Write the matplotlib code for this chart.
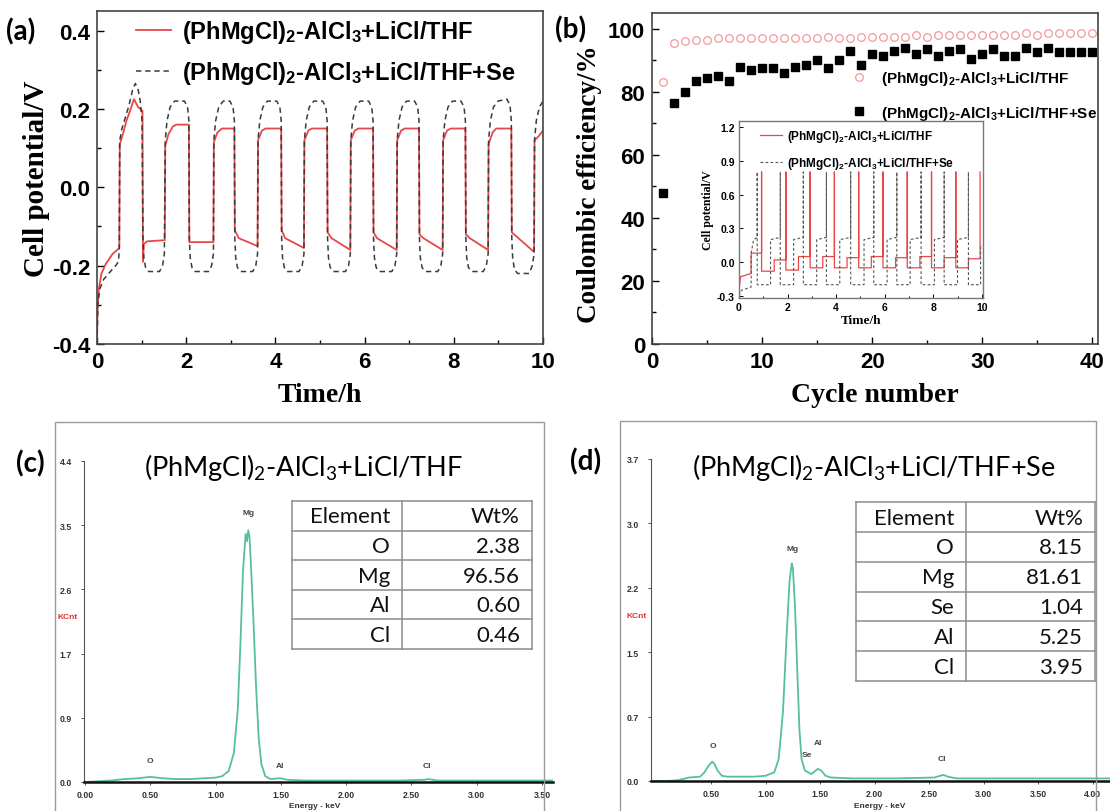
import matplotlib.pyplot as plt
from matplotlib.patches import Rectangle
from matplotlib.ticker import MultipleLocator

plt.rcParams['font.family'] = 'Liberation Sans'
plt.rcParams['font.weight'] = 'bold'
plt.rcParams['mathtext.default'] = 'regular'
plt.rcParams['axes.unicode_minus'] = False

W, H = 1110, 812

LBL_PLAIN = r'(PhMgCl)$_2$-AlCl$_3$+LiCl/THF'
LBL_SE = r'(PhMgCl)$_2$-AlCl$_3$+LiCl/THF+Se'

# (a) galvanostatic cycling, (time h, potential V)
red_pts = [
    (0.00, -0.40), (0.01, -0.32), (0.04, -0.26), (0.10, -0.22), (0.20, -0.195), (0.35, -0.17), (0.50, -0.155),
    (0.51, 0.11), (0.58, 0.135), (0.66, 0.17), (0.74, 0.195), (0.83, 0.225), (0.92, 0.205), (1.02, 0.195),
    (1.03, -0.19), (1.05, -0.145), (1.12, -0.138), (1.52, -0.135),
    (1.53, 0.105), (1.60, 0.135), (1.70, 0.155), (1.78, 0.16), (2.06, 0.16),
    (2.07, -0.14), (2.61, -0.14),
    (2.62, 0.115), (2.70, 0.14), (2.80, 0.15), (3.08, 0.15),
    (3.09, -0.11), (3.18, -0.13), (3.60, -0.15),
    (3.61, 0.12), (3.70, 0.145), (3.78, 0.15), (4.13, 0.15),
    (4.14, -0.11), (4.22, -0.13), (4.64, -0.155),
    (4.65, 0.12), (4.74, 0.145), (4.82, 0.15), (5.16, 0.15),
    (5.17, -0.115), (5.26, -0.13), (5.68, -0.16),
    (5.69, 0.12), (5.78, 0.145), (5.86, 0.15), (6.19, 0.15),
    (6.20, -0.115), (6.28, -0.13), (6.72, -0.16),
    (6.73, 0.12), (6.82, 0.145), (6.90, 0.15), (7.22, 0.15),
    (7.23, -0.12), (7.32, -0.13), (7.75, -0.16),
    (7.76, 0.12), (7.85, 0.145), (7.93, 0.15), (8.26, 0.15),
    (8.27, -0.12), (8.36, -0.13), (8.77, -0.16),
    (8.78, 0.11), (8.87, 0.14), (8.95, 0.15), (9.29, 0.15),
    (9.30, -0.115), (9.40, -0.125), (9.80, -0.165),
    (9.81, 0.12), (9.90, 0.13), (10.0, 0.145),
]
se_pts = [
    (0.00, -0.40), (0.02, -0.30), (0.06, -0.26), (0.15, -0.235), (0.30, -0.215), (0.42, -0.20), (0.48, -0.19), (0.50, -0.16),
    (0.51, 0.12), (0.56, 0.15), (0.64, 0.18), (0.72, 0.21), (0.80, 0.25), (0.86, 0.265), (0.92, 0.25), (0.97, 0.22), (1.01, 0.17),
    (1.03, -0.13), (1.05, -0.18), (1.09, -0.205), (1.16, -0.215), (1.40, -0.215), (1.47, -0.20), (1.51, -0.17),
    (1.53, 0.12), (1.57, 0.17), (1.64, 0.205), (1.74, 0.22), (1.96, 0.22), (2.03, 0.205), (2.06, 0.17),
    (2.07, -0.13), (2.09, -0.18), (2.13, -0.205), (2.20, -0.215), (2.50, -0.215), (2.57, -0.20), (2.61, -0.17),
    (2.62, 0.12), (2.66, 0.17), (2.73, 0.205), (2.83, 0.22), (2.98, 0.22), (3.05, 0.205), (3.08, 0.17),
    (3.09, -0.13), (3.11, -0.18), (3.15, -0.205), (3.22, -0.215), (3.49, -0.215), (3.56, -0.20), (3.60, -0.17),
    (3.61, 0.12), (3.65, 0.17), (3.72, 0.205), (3.82, 0.22), (4.03, 0.22), (4.10, 0.205), (4.13, 0.17),
    (4.14, -0.13), (4.16, -0.18), (4.20, -0.205), (4.27, -0.215), (4.53, -0.215), (4.60, -0.20), (4.64, -0.17),
    (4.65, 0.12), (4.69, 0.17), (4.76, 0.205), (4.86, 0.22), (5.06, 0.22), (5.13, 0.205), (5.16, 0.17),
    (5.17, -0.13), (5.19, -0.18), (5.23, -0.205), (5.30, -0.215), (5.57, -0.215), (5.64, -0.20), (5.68, -0.17),
    (5.69, 0.12), (5.73, 0.17), (5.80, 0.205), (5.90, 0.22), (6.09, 0.22), (6.16, 0.205), (6.19, 0.17),
    (6.20, -0.13), (6.22, -0.18), (6.26, -0.205), (6.33, -0.215), (6.61, -0.215), (6.68, -0.20), (6.72, -0.17),
    (6.73, 0.12), (6.77, 0.17), (6.84, 0.205), (6.94, 0.22), (7.12, 0.22), (7.19, 0.205), (7.22, 0.17),
    (7.23, -0.13), (7.25, -0.18), (7.29, -0.205), (7.36, -0.215), (7.64, -0.215), (7.71, -0.20), (7.75, -0.17),
    (7.76, 0.12), (7.80, 0.17), (7.87, 0.205), (7.97, 0.22), (8.16, 0.22), (8.23, 0.205), (8.26, 0.17),
    (8.27, -0.13), (8.29, -0.18), (8.33, -0.205), (8.40, -0.215), (8.66, -0.215), (8.73, -0.20), (8.77, -0.17),
    (8.78, 0.12), (8.82, 0.17), (8.89, 0.205), (8.99, 0.22), (9.19, 0.225), (9.26, 0.21), (9.29, 0.17),
    (9.30, -0.13), (9.32, -0.18), (9.36, -0.21), (9.43, -0.22), (9.69, -0.22), (9.76, -0.20), (9.80, -0.17),
    (9.81, 0.12), (9.85, 0.17), (9.92, 0.205), (10.0, 0.22),
]

# (b) coulombic efficiency per cycle
cycles = list(range(1, 41))
ce_plain = [83, 95.5, 96, 96.5, 96.5, 97, 97, 97, 97, 97, 97, 97, 97, 97, 97, 97.5, 97, 97, 97.5, 97.5,
            97.5, 97.5, 97.5, 98, 97.5, 98, 98, 98, 98, 98, 98, 98, 98, 98.5, 98, 98.5, 98.5, 98.5, 98.5, 98.5]
ce_se = [48, 76.5, 80, 83.5, 84.5, 85, 83.5, 88, 87, 87.5, 87.5, 86, 88, 88.5, 90, 87.5, 90, 93, 88.5, 92,
         91.5, 93, 94, 92, 93.5, 91.5, 93, 93.5, 90.5, 92, 93.5, 91.5, 91.5, 94, 92.5, 94, 92.5, 92.5, 92.5, 92.5]

# (b) inset, long cycling with cutoff spikes
inset_red = [
    (0.00, -0.25), (0.06, -0.13), (0.50, -0.10),
    (0.50, 0.08), (0.93, 0.08), (0.93, 0.80), (0.93, -0.08),
    (1.45, -0.08), (1.45, 0.02), (1.93, 0.02), (1.93, 0.80), (1.93, -0.07),
    (2.45, -0.07), (2.45, 0.05), (2.93, 0.05), (2.93, 0.80), (2.93, -0.05),
    (3.45, -0.05), (3.45, 0.05), (3.93, 0.05), (3.93, 0.80), (3.93, -0.05),
    (4.45, -0.05), (4.45, 0.04), (4.93, 0.04), (4.93, 0.80), (4.93, -0.05),
    (5.45, -0.05), (5.45, 0.05), (5.93, 0.05), (5.93, 0.80), (5.93, -0.05),
    (6.45, -0.05), (6.45, 0.04), (6.93, 0.04), (6.93, 0.80), (6.93, -0.05),
    (7.45, -0.05), (7.45, 0.05), (7.93, 0.05), (7.93, 0.80), (7.93, -0.05),
    (8.45, -0.05), (8.45, 0.04), (8.93, 0.04), (8.93, 0.80), (8.93, -0.05),
    (9.45, -0.05), (9.45, 0.03), (9.93, 0.03), (9.93, 0.80),
]
inset_se = [
    (0.00, -0.30), (0.10, -0.25), (0.50, -0.22), (0.50, 0.08), (0.60, 0.20), (0.75, 0.22), (0.75, 0.80), (0.75, -0.20),
    (1.30, -0.20), (1.30, 0.20), (1.70, 0.22), (1.70, 0.80), (1.70, -0.20),
    (2.25, -0.20), (2.25, 0.20), (2.65, 0.22), (2.65, 0.80), (2.65, -0.20),
    (3.20, -0.20), (3.20, 0.20), (3.60, 0.22), (3.60, 0.80), (3.60, -0.20),
    (4.15, -0.20), (4.15, 0.20), (4.60, 0.22), (4.60, 0.80), (4.60, -0.20),
    (5.15, -0.20), (5.15, 0.20), (5.55, 0.22), (5.55, 0.80), (5.55, -0.20),
    (6.10, -0.20), (6.10, 0.20), (6.50, 0.22), (6.50, 0.80), (6.50, -0.20),
    (7.05, -0.20), (7.05, 0.20), (7.50, 0.22), (7.50, 0.80), (7.50, -0.20),
    (8.05, -0.20), (8.05, 0.20), (8.45, 0.22), (8.45, 0.80), (8.45, -0.20),
    (9.00, -0.20), (9.00, 0.20), (9.45, 0.22), (9.45, 0.80), (9.45, -0.20), (9.95, -0.20), (9.95, 0.15), (10.0, 0.15),
]

# (c) EDX spectrum, deposit without Se (keV, KCnt)
energy_c = [0.00, 0.10, 0.20, 0.30, 0.40, 0.45, 0.50, 0.55, 0.60, 0.70, 0.80, 0.90, 1.00, 1.05, 1.10, 1.14, 1.17,
            1.19, 1.21, 1.23, 1.24, 1.25, 1.26, 1.27, 1.29, 1.31, 1.33, 1.35, 1.38, 1.42, 1.48, 1.50, 1.55, 1.70,
            2.00, 2.40, 2.60, 2.63, 2.70, 3.00, 3.58]
counts_c = [0.00, 0.01, 0.02, 0.04, 0.05, 0.06, 0.07, 0.06, 0.05, 0.04, 0.04, 0.05, 0.06, 0.08, 0.15, 0.40, 1.00,
            1.90, 2.90, 3.40, 3.30, 3.45, 3.35, 3.00, 2.20, 1.30, 0.60, 0.25, 0.08, 0.04, 0.05, 0.05, 0.03, 0.02,
            0.02, 0.02, 0.03, 0.04, 0.02, 0.02, 0.02]
elements_c = ['O', 'Mg', 'Al', 'Cl']
wt_c = [2.38, 96.56, 0.60, 0.46]
peaks_c = [('O', 0.50, 0.25), ('Mg', 1.25, 3.65), ('Al', 1.49, 0.18), ('Cl', 2.62, 0.18)]

# (d) EDX spectrum, deposit with Se
energy_d = [-0.05, 0.10, 0.20, 0.30, 0.40, 0.44, 0.48, 0.51, 0.53, 0.56, 0.60, 0.65, 0.75, 0.90, 1.00, 1.08, 1.12,
            1.16, 1.19, 1.22, 1.24, 1.25, 1.27, 1.29, 1.31, 1.33, 1.36, 1.39, 1.42, 1.45, 1.48, 1.51, 1.55, 1.60,
            1.80, 2.20, 2.55, 2.60, 2.63, 2.67, 2.75, 3.20, 4.16]
counts_d = [0.00, 0.00, 0.01, 0.04, 0.05, 0.10, 0.18, 0.22, 0.20, 0.12, 0.06, 0.05, 0.05, 0.05, 0.06, 0.10, 0.25,
            0.80, 1.60, 2.30, 2.50, 2.45, 2.00, 1.30, 0.60, 0.25, 0.12, 0.10, 0.08, 0.11, 0.14, 0.12, 0.06, 0.04,
            0.03, 0.03, 0.04, 0.06, 0.07, 0.05, 0.03, 0.03, 0.03]
elements_d = ['O', 'Mg', 'Se', 'Al', 'Cl']
wt_d = [8.15, 81.61, 1.04, 5.25, 3.95]
peaks_d = [('O', 0.52, 0.37), ('Mg', 1.25, 2.63), ('Se', 1.38, 0.26), ('Al', 1.48, 0.40), ('Cl', 2.62, 0.22)]

RED = '#e8474a'
DARK = '#3a3a3a'
TEAL = '#55bfa0'
GRID_GRAY = '#8c8c8c'
SERIF = dict(fontfamily='Liberation Serif', fontweight='bold')


def px_axes(fig, x0, y0, x1, y1):
    return fig.add_axes([x0 / W, 1 - y1 / H, (x1 - x0) / W, (y1 - y0) / H])


def px_text(fig, x, y, s, **kw):
    kw.setdefault('ha', 'center')
    kw.setdefault('va', 'center')
    return fig.text(x / W, 1 - y / H, s, **kw)


def style_frame(ax, color='#444444', lw=1.2):
    for sp in ax.spines.values():
        sp.set_color(color)
        sp.set_linewidth(lw)


def draw_table(ax, elements, wt, split):
    rows = [('Element', 'Wt%')] + [(e, f'{w:.2f}') for e, w in zip(elements, wt)]
    n = len(rows)
    ax.set_xlim(0, 1)
    ax.set_ylim(n, 0)
    ax.axis('off')
    for i in range(n + 1):
        ax.plot([0, 1], [i, i], color=GRID_GRAY, lw=1.1, clip_on=False)
    for x in (0, split, 1):
        ax.plot([x, x], [0, n], color=GRID_GRAY, lw=1.1, clip_on=False)
    for i, (a, b) in enumerate(rows):
        ax.text(split - 0.05, i + 0.52, a, ha='right', va='center',
                fontfamily='Lato', fontweight='normal', fontsize=16, color='#111111')
        ax.text(0.95, i + 0.52, b, ha='right', va='center',
                fontfamily='Lato', fontweight='normal', fontsize=16, color='#111111')


def edx_axes(ax, xlim, ylim, yticks, ylabels, xticks, xlabels, energy, counts, peaks):
    ax.plot(energy, counts, color=TEAL, lw=1.3)
    ax.set_xlim(*xlim)
    ax.set_ylim(*ylim)
    for side in ('top', 'right'):
        ax.spines[side].set_visible(False)
    ax.spines['left'].set_color('#555555')
    ax.spines['left'].set_linewidth(0.8)
    ax.spines['bottom'].set_color('#111111')
    ax.spines['bottom'].set_linewidth(1.8)
    ax.set_yticks(yticks, ylabels)
    ax.set_xticks(xticks, xlabels)
    ax.tick_params(axis='both', direction='out', length=2.5, width=0.7, labelsize=6.3,
                   labelcolor='#333333', color='#555555')
    ax.tick_params(axis='y', pad=6)
    ax.tick_params(axis='x', pad=3)
    ax.patch.set_alpha(0)
    for name, e, y in peaks:
        ax.text(e, y, name, ha='center', va='bottom', fontsize=6, color='#444444')


fig = plt.figure(figsize=(W / 100, H / 100), dpi=100)

# ---- (a) voltage profiles ----
ax_a = px_axes(fig, 97, 12, 543, 345)
t_r, v_r = zip(*red_pts)
t_s, v_s = zip(*se_pts)
ax_a.plot(t_r, v_r, color=RED, lw=1.3, label=LBL_PLAIN)
ax_a.plot(t_s, v_s, color=DARK, lw=1.1, ls=(0, (3.5, 2.5)), label=LBL_SE)
ax_a.set_xlim(0, 10)
ax_a.set_ylim(-0.4, 0.45)
ax_a.xaxis.set_major_locator(MultipleLocator(2))
ax_a.xaxis.set_minor_locator(MultipleLocator(1))
ax_a.yaxis.set_major_locator(MultipleLocator(0.2))
ax_a.yaxis.set_minor_locator(MultipleLocator(0.1))
ax_a.yaxis.set_major_formatter('{x:.1f}')
ax_a.tick_params(which='both', direction='in', labelsize=16, width=1)
ax_a.tick_params(which='major', length=5, pad=5)
ax_a.tick_params(which='minor', length=3)
style_frame(ax_a)
ax_a.set_xlabel('Time/h', fontsize=20, **SERIF)
ax_a.xaxis.set_label_coords(0.5, -0.115)
ax_a.xaxis.label.set_va('top')
ax_a.set_ylabel('Cell potential/V', fontsize=21, **SERIF)
ax_a.yaxis.set_label_coords(-0.105, 0.5)
ax_a.legend(loc='upper left', bbox_to_anchor=(0.087, 0.978), frameon=False, borderpad=0,
            borderaxespad=0, handlelength=1.5, handletextpad=0.45, labelspacing=0.6,
            prop=dict(family='Liberation Sans', weight='bold', size=17))
px_text(fig, 21, 32, '(a)', fontfamily='Lato', fontweight='bold', fontsize=20)

# ---- (b) coulombic efficiency ----
ax_b = px_axes(fig, 652, 14, 1098, 345)
ax_b.plot(cycles, ce_plain, ls='none', marker='o', ms=5.5, mfc='none', mec='#f19a9a', mew=0.9, label=LBL_PLAIN)
ax_b.plot(cycles, ce_se, ls='none', marker='s', ms=5.5, color='black', label=LBL_SE)
ax_b.set_xlim(0, 40.5)
ax_b.set_ylim(0, 105)
ax_b.xaxis.set_major_locator(MultipleLocator(10))
ax_b.xaxis.set_minor_locator(MultipleLocator(5))
ax_b.yaxis.set_major_locator(MultipleLocator(20))
ax_b.yaxis.set_minor_locator(MultipleLocator(10))
ax_b.tick_params(which='both', direction='in', labelsize=16, width=1)
ax_b.tick_params(which='major', length=5, pad=5)
ax_b.tick_params(which='minor', length=3)
style_frame(ax_b)
ax_b.set_xlabel('Cycle number', fontsize=20, **SERIF)
ax_b.xaxis.set_label_coords(0.5, -0.115)
ax_b.xaxis.label.set_va('top')
ax_b.set_ylabel('Coulombic efficiency/%', fontsize=19.5, **SERIF)
ax_b.yaxis.set_label_coords(-0.112, 0.485)
ax_b.legend(loc='upper left', bbox_to_anchor=(0.444, 0.831), frameon=False, borderpad=0,
            borderaxespad=0, handlelength=1.2, handletextpad=0.8, labelspacing=1.1,
            prop=dict(family='Liberation Sans', weight='bold', size=11))
px_text(fig, 571, 30, '(b)', fontfamily='Lato', fontweight='bold', fontsize=20)

# inset of (b)
ax_in = px_axes(fig, 739, 122, 983, 299)
ti_r, vi_r = zip(*inset_red)
ti_s, vi_s = zip(*inset_se)
ax_in.plot(ti_r, vi_r, color=RED, lw=0.9, label=LBL_PLAIN)
ax_in.plot(ti_s, vi_s, color='#555555', lw=0.8, ls=(0, (2.5, 2)), label=LBL_SE)
ax_in.set_xlim(0, 10.05)
ax_in.set_ylim(-0.318, 1.253)
ax_in.xaxis.set_major_locator(MultipleLocator(2))
ax_in.xaxis.set_minor_locator(MultipleLocator(1))
ax_in.yaxis.set_major_locator(MultipleLocator(0.3))
ax_in.yaxis.set_major_formatter('{x:.1f}')
ax_in.tick_params(which='both', direction='in', labelsize=7.5, width=0.7, pad=3)
ax_in.tick_params(which='major', length=3)
ax_in.tick_params(which='minor', length=1.5)
style_frame(ax_in, color='#777777', lw=1.0)
ax_in.set_xlabel('Time/h', fontsize=9.5, labelpad=1, **SERIF)
ax_in.set_ylabel('Cell potential/V', fontsize=8.5, labelpad=2, **SERIF)
ax_in.legend(loc='upper left', bbox_to_anchor=(0.086, 0.96), frameon=False, borderpad=0,
             borderaxespad=0, handlelength=1.9, handletextpad=0.4, labelspacing=0.9,
             prop=dict(family='Liberation Sans', weight='bold', size=8.5))

# ---- (c) EDX without Se ----
fig.add_artist(Rectangle((55 / W, -0.05), (544 - 55) / W, 1 - 423 / H + 0.05, transform=fig.transFigure,
                         fill=False, edgecolor='#9a9a9a', lw=1.0))
ax_c = px_axes(fig, 84, 462, 553, 783)
edx_axes(ax_c, (-0.008, 3.584), (0, 4.4),
         [0, 0.88, 1.76, 2.64, 3.52, 4.4], ['0.0', '0.9', '1.7', '2.6', '3.5', '4.4'],
         [0, 0.5, 1.0, 1.5, 2.0, 2.5, 3.0, 3.5], ['0.00', '0.50', '1.00', '1.50', '2.00', '2.50', '3.00', '3.50'],
         energy_c, counts_c, peaks_c)
px_text(fig, 315, 807, 'Energy - keV', fontsize=6, color='#333333')
px_text(fig, 68, 618, 'KCnt', fontsize=6, color='#e03030')
px_text(fig, 304, 468, LBL_PLAIN, fontfamily='Lato', fontweight='normal', fontsize=19.5)
px_text(fig, 30, 464, '(c)', fontfamily='Lato', fontweight='bold', fontsize=20)
ax_tc = px_axes(fig, 292, 502, 532, 650)
draw_table(ax_tc, elements_c, wt_c, 110 / 240)

# ---- (d) EDX with Se ----
fig.add_artist(Rectangle((620 / W, -0.05), (1096 - 620) / W, 1 - 422 / H + 0.05, transform=fig.transFigure,
                         fill=False, edgecolor='#9a9a9a', lw=1.0))
ax_d = px_axes(fig, 651, 460, 1110, 782)
edx_axes(ax_d, (-0.05, 4.157), (0, 3.7),
         [0, 0.74, 1.48, 2.22, 2.96, 3.7], ['0.0', '0.7', '1.5', '2.2', '3.0', '3.7'],
         [0.5, 1.0, 1.5, 2.0, 2.5, 3.0, 3.5, 4.0], ['0.50', '1.00', '1.50', '2.00', '2.50', '3.00', '3.50', '4.00'],
         energy_d, counts_d, peaks_d)
px_text(fig, 880, 807, 'Energy - keV', fontsize=6, color='#333333')
px_text(fig, 637, 617, 'KCnt', fontsize=6, color='#e03030')
px_text(fig, 874, 468, LBL_SE, fontfamily='Lato', fontweight='normal', fontsize=19.5)
px_text(fig, 586, 462, '(d)', fontfamily='Lato', fontweight='bold', fontsize=20)
ax_td = px_axes(fig, 856, 503, 1095, 682)
draw_table(ax_td, elements_d, wt_d, 110 / 239)

fig.savefig('out.png', dpi=100)
